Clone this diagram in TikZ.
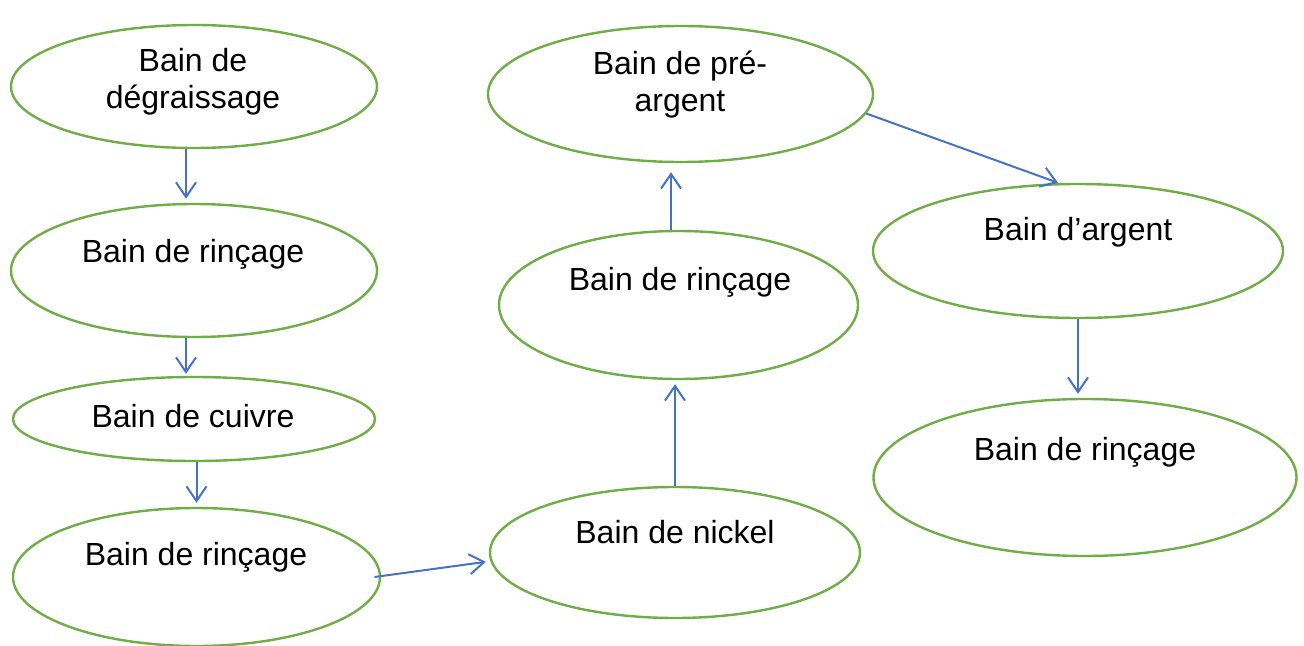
\documentclass[tikz,border=0pt]{standalone}
\usepackage{fontspec}
\setmainfont{Liberation Sans}
\usetikzlibrary{shapes.geometric,arrows.meta}
\definecolor{egreen}{HTML}{70AD47}
\definecolor{ablue}{HTML}{4472C4}
\begin{document}
\begin{tikzpicture}[x=0.75pt,y=-0.75pt,
 bath/.style={draw=egreen,line width=1.8pt,ellipse,inner sep=0pt,fill=white},
 lbl/.style={font=\fontsize{24pt}{27.5pt}\selectfont,anchor=base,align=center,inner sep=0pt},
 arr/.style={draw=ablue,line width=1.5pt,-{Straight Barb[length=11pt,width=15pt]}}]
\useasboundingbox (0,0) rectangle (1304,646);
% ellipses
\node[bath,minimum width=366*0.75pt,minimum height=123*0.75pt] (e1) at (194,86.5) {};
\node[bath,minimum width=366*0.75pt,minimum height=133*0.75pt] (e2) at (194,270.5) {};
\node[bath,minimum width=362*0.75pt,minimum height=84*0.75pt] (e3) at (194,419) {};
\node[bath,minimum width=367*0.75pt,minimum height=138*0.75pt] (e4) at (196.5,577) {};
\node[bath,minimum width=370*0.75pt,minimum height=131*0.75pt] (e5) at (675,552.5) {};
\node[bath,minimum width=359*0.75pt,minimum height=148*0.75pt] (e6) at (678.5,305) {};
\node[bath,minimum width=385*0.75pt,minimum height=136*0.75pt] (e7) at (680.5,94) {};
\node[bath,minimum width=410*0.75pt,minimum height=134*0.75pt] (e8) at (1078,251) {};
\node[bath,minimum width=423*0.75pt,minimum height=157*0.75pt] (e9) at (1085,477.5) {};
% labels
\node[lbl] (t1) at (193,108) {Bain de\\dégraissage};
\node[lbl] (t2) at (193,262) {Bain de rinçage};
\node[lbl] (t3) at (193,427) {Bain de cuivre};
\node[lbl] (t4) at (196,565) {Bain de rinçage};
\node[lbl] (t5) at (675,543) {Bain de nickel};
\node[lbl] (t6) at (680,290) {Bain de rinçage};
\node[lbl] (t7) at (680,111) {Bain de pré-\\argent};
\node[lbl] (t8) at (1078,240) {Bain d’argent};
\node[lbl] (t9) at (1085,460) {Bain de rinçage};
% arrows
\draw[arr] ([xshift=-6pt]e1.south) -- ([xshift=-6pt,yshift=3pt]e2.north);
\draw[arr] ([xshift=-6pt]e2.south) -- ([xshift=-6pt,yshift=1.5pt]e3.north);
\draw[arr] (e3.south -| e4.north) -- ([yshift=3pt]e4.north);
\draw[arr] ([xshift=-5pt]e4.east) -- ([xshift=-2.25pt,yshift=-7pt]e5.west);
\draw[arr] (e5.north) -- ([yshift=-3pt]e6.south -| e5.north);
\draw[arr] ([xshift=-5.6pt]e6.north) -- ([xshift=-7.1pt,yshift=-6.75pt]e7.south);
\draw[arr] (e7.-6) -- ([xshift=-15pt]e8.north);
\draw[arr] (e8.south) -- ([yshift=3pt]e9.north -| e8.south);
\end{tikzpicture}
\end{document}
